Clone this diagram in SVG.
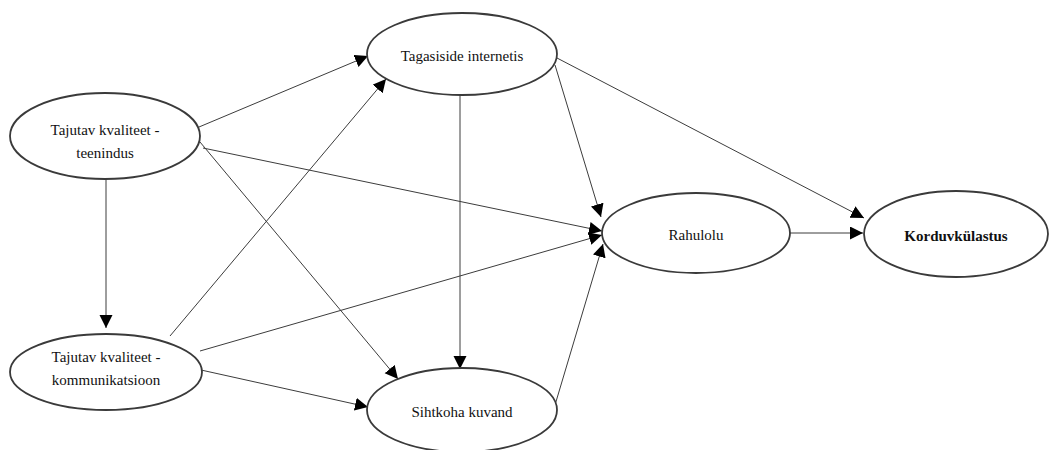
<svg xmlns="http://www.w3.org/2000/svg" width="1049" height="450" viewBox="0 0 1049 450">
<style>
.node ellipse { fill: #ffffff; stroke: #3a3a3a; stroke-width: 1.8; }
.node text { font-family: "Liberation Serif", "DejaVu Serif", serif; font-size: 15px; fill: #111111; text-anchor: middle; }
.node text.bold { font-weight: bold; }
.edges line { stroke: #3c3c3c; stroke-width: 1; marker-end: url(#arr); }
</style>
<defs>
<marker id="arr" markerUnits="userSpaceOnUse" markerWidth="14" markerHeight="14" refX="13" refY="6.5" orient="auto">
<path d="M0,0 L13,6.5 L0,13 z" fill="#000000"/>
</marker>
</defs>
<rect x="0" y="0" width="1049" height="450" fill="#ffffff"/>
<g class="edges">
<line x1="199" y1="127" x2="368" y2="56"/>
<line x1="203" y1="148" x2="602" y2="231"/>
<line x1="200" y1="142" x2="398" y2="379"/>
<line x1="106" y1="179" x2="106" y2="328"/>
<line x1="170" y1="336" x2="386" y2="79"/>
<line x1="200" y1="351" x2="602" y2="235"/>
<line x1="201" y1="370" x2="368" y2="407"/>
<line x1="460" y1="95" x2="460" y2="369"/>
<line x1="555" y1="65" x2="601" y2="217"/>
<line x1="557" y1="58" x2="864" y2="218"/>
<line x1="555" y1="405" x2="603" y2="244"/>
<line x1="790" y1="233" x2="863" y2="233"/>
</g>
<g id="node-teenindus" class="node">
<ellipse cx="105" cy="136" rx="95" ry="43"/>
<text x="105" y="135">Tajutav kvaliteet -</text>
<text x="105" y="158">teenindus</text>
</g>
<g id="node-kommunikatsioon" class="node">
<ellipse cx="106" cy="372" rx="96" ry="38"/>
<text x="106" y="362">Tajutav kvaliteet -</text>
<text x="106" y="385">kommunikatsioon</text>
</g>
<g id="node-tagasiside" class="node">
<ellipse cx="462" cy="54" rx="95" ry="41"/>
<text x="462" y="61">Tagasiside internetis</text>
</g>
<g id="node-sihtkoha" class="node">
<ellipse cx="462" cy="410" rx="95" ry="42"/>
<text x="462" y="417">Sihtkoha kuvand</text>
</g>
<g id="node-rahulolu" class="node">
<ellipse cx="696" cy="233" rx="94" ry="40"/>
<text x="696" y="240">Rahulolu</text>
</g>
<g id="node-korduvkulastus" class="node">
<ellipse cx="956" cy="234" rx="92" ry="43"/>
<text class="bold" x="956" y="241">Korduvkülastus</text>
</g>
</svg>
